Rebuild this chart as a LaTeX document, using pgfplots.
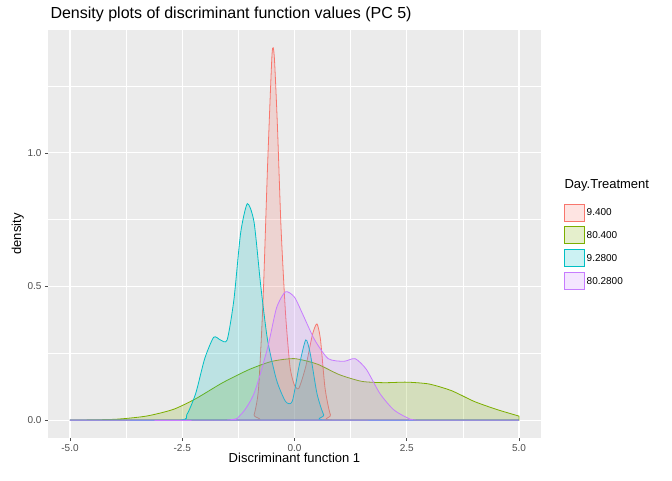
\documentclass[border=0pt]{standalone}
\usepackage{pgfplots}
\pgfplotsset{compat=1.18}
\usepackage{fontspec}
\setmainfont{Liberation Sans}
\definecolor{cR}{HTML}{F8766D}
\definecolor{cG}{HTML}{7CAE00}
\definecolor{cC}{HTML}{00BFC4}
\definecolor{cP}{HTML}{C77CFF}
\definecolor{bg}{HTML}{EBEBEB}
\definecolor{tk}{HTML}{4D4D4D}
\begin{document}
\begin{tikzpicture}
\path[use as bounding box] (0,0) rectangle (672pt,480pt);
\begin{axis}[at={(48pt,42pt)},anchor=south west,scale only axis,width=493pt,height=408pt,
 xmin=-5.49,xmax=5.49,ymin=-0.067,ymax=1.46,
 axis background/.style={fill=bg},axis line style={draw=none},
 xtick={-5,-2.5,0,2.5,5},xticklabels={-5.0,-2.5,0.0,2.5,5.0},
 ytick={0,0.5,1},yticklabels={0.0,0.5,1.0},
 minor xtick={-3.75,-1.25,1.25,3.75},minor ytick={0.25,0.75,1.25},
 grid=both,major grid style={white,line width=1.1pt},minor grid style={white,line width=0.5pt},
 tick style={tk,line width=0.5pt},major tick length=3pt,minor tick length=0pt,tick align=outside,
 xtick pos=bottom,ytick pos=left,
 ticklabel style={font=\fontsize{10}{11}\selectfont,text=tk},
 xlabel={Discriminant function 1},ylabel={density},
 label style={font=\fontsize{13}{14}\selectfont},
 xlabel style={yshift=5pt},ylabel style={yshift=-3pt},
 legend style={at={(1.04,0.58)},anchor=north west,draw=none,fill=none,font=\fontsize{10}{11}\selectfont,row sep=5pt},
 legend cell align=left,
 legend image code/.code={\draw[#1,fill opacity=0.2] (0pt,-8pt) rectangle (20pt,9pt);},
 every axis plot/.append style={line width=0.8pt},
]
\addplot[cR,fill=cR,fill opacity=0.2,smooth,tension=0.4] coordinates {(-5,0)(-1.0,0)(-0.9,0.02)(-0.8,0.12)(-0.7,0.45)(-0.6,0.95)(-0.5,1.37)(-0.45,1.36)(-0.38,1.1)(-0.3,0.72)(-0.2,0.4)(-0.1,0.2)(0,0.13)(0.1,0.12)(0.25,0.2)(0.4,0.32)(0.5,0.36)(0.58,0.3)(0.68,0.12)(0.8,0.02)(0.95,0)(5,0)} \closedcycle;
\addlegendentry{9.400}
\addplot[cG,fill=cG,fill opacity=0.2,smooth,tension=0.4] coordinates {(-5,0)(-4,0.003)(-3.3,0.015)(-2.7,0.04)(-2.2,0.08)(-1.6,0.14)(-1.0,0.19)(-0.5,0.22)(0,0.23)(0.5,0.21)(1.0,0.17)(1.5,0.145)(2.0,0.14)(2.5,0.142)(3.0,0.135)(3.5,0.11)(4.0,0.07)(4.5,0.04)(5,0.015)} \closedcycle;
\addlegendentry{80.400}
\addplot[cC,fill=cC,fill opacity=0.2,smooth,tension=0.4] coordinates {(-5,0)(-2.6,0)(-2.4,0.02)(-2.2,0.1)(-2.0,0.23)(-1.8,0.31)(-1.65,0.3)(-1.5,0.3)(-1.35,0.45)(-1.2,0.7)(-1.05,0.81)(-0.9,0.74)(-0.75,0.5)(-0.6,0.3)(-0.4,0.15)(-0.2,0.07)(-0.05,0.07)(0.1,0.2)(0.25,0.3)(0.35,0.25)(0.5,0.1)(0.65,0.02)(0.8,0)(5,0)} \closedcycle;
\addlegendentry{9.2800}
\addplot[cP,fill=cP,fill opacity=0.2,smooth,tension=0.4] coordinates {(-5,0)(-1.6,0)(-1.2,0.02)(-0.9,0.1)(-0.6,0.27)(-0.4,0.42)(-0.2,0.48)(0,0.46)(0.2,0.39)(0.45,0.3)(0.75,0.23)(1.1,0.22)(1.35,0.23)(1.6,0.19)(1.9,0.1)(2.2,0.04)(2.5,0.01)(2.8,0)(5,0)} \closedcycle;
\addlegendentry{80.2800}
\end{axis}
\node[anchor=west,font=\fontsize{16}{17}\selectfont] at (47pt,466pt) {Density plots of discriminant function values (PC 5)};
\node[anchor=west,font=\fontsize{13}{14}\selectfont] at (561pt,295pt) {Day.Treatment};
\end{tikzpicture}
\end{document}
